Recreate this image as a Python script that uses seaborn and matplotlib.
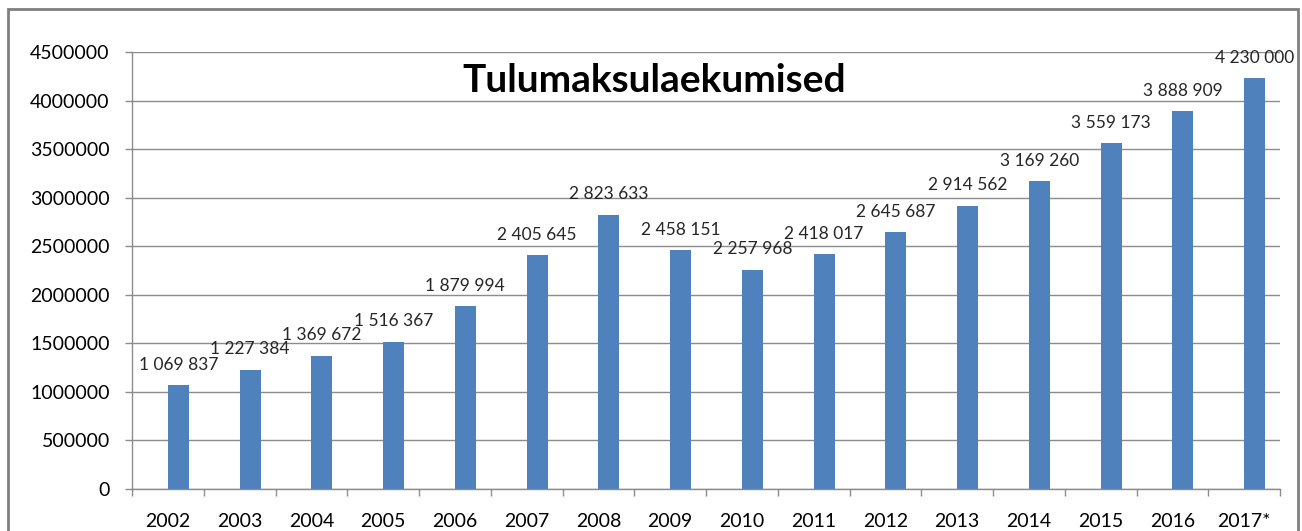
import matplotlib
matplotlib.use('Agg')
import matplotlib.pyplot as plt
import matplotlib.patches as patches
from matplotlib.ticker import FixedLocator, FuncFormatter, MultipleLocator
import seaborn as sns
import numpy as np
import pandas as pd

years = ['2002', '2003', '2004', '2005', '2006', '2007', '2008', '2009',
         '2010', '2011', '2012', '2013', '2014', '2015', '2016', '2017*']
income = [1069837, 1227384, 1369672, 1516367, 1879994, 2405645, 2823633, 2458151,
          2257968, 2418017, 2645687, 2914562, 3169260, 3559173, 3888909, 4230000]
# the source chart has an empty first series, which pushes the bars right
empty = [np.nan] * len(years)
title = 'Tulumaksulaekumised'

df = pd.DataFrame({
    'year': years * 2,
    'value': empty + income,
    'series': ['empty'] * len(years) + ['income'] * len(years),
})

sns.set_style('white')
plt.rcParams['font.family'] = ['Lato', 'DejaVu Sans']

grey = '#8c8c8c'
bar_color = '#4f81bd'

fig = plt.figure(figsize=(13.02, 5.31), dpi=100)
ax = fig.add_axes([132 / 1302, 1 - 489 / 531, (1280 - 132) / 1302, (489 - 52) / 531])

sns.barplot(data=df, x='year', y='value', hue='series', hue_order=['empty', 'income'],
            palette={'empty': bar_color, 'income': bar_color}, saturation=1,
            width=0.585, ax=ax, linewidth=0, legend=False)

ax.set_ylim(0, 4500000)
ax.set_xlim(-0.5, len(years) - 0.5)
ax.set_xlabel('')
ax.set_ylabel('')
ax.yaxis.set_major_locator(MultipleLocator(500000))
ax.yaxis.set_major_formatter(FuncFormatter(lambda v, p: '{:d}'.format(int(v))))
ax.grid(axis='y', color=grey, linewidth=1)
ax.set_axisbelow(True)

for s in ['top', 'right']:
    ax.spines[s].set_visible(False)
for s in ['left', 'bottom']:
    ax.spines[s].set_color(grey)
    ax.spines[s].set_linewidth(1)

# ticks between categories like excel
ax.xaxis.set_minor_locator(FixedLocator(np.arange(-0.5, len(years), 1)))
ax.tick_params(axis='x', which='major', length=0, pad=17, labelsize=14, colors='black')
ax.tick_params(axis='x', which='minor', length=5, width=1, color=grey, direction='out', bottom=True)
ax.tick_params(axis='y', length=5, width=1, color=grey, direction='out', left=True,
               pad=11, labelsize=14, labelcolor='black')

bars = ax.containers[-1]
labels = ['{:,}'.format(v).replace(',', ' ') for v in income]
ax.bar_label(bars, labels=labels, padding=9, fontsize=12.5)

ax.text(0.455, 0.935, title, transform=ax.transAxes, ha='center', va='center',
        fontsize=28, fontweight='bold', color='black')

# outer chart border (bottom edge cut off)
border = patches.Rectangle((8 / 1302, -0.1), (1298 - 8) / 1302, 1.1 - 9 / 531,
                           transform=fig.transFigure, fill=False, edgecolor='#7f7f7f',
                           linewidth=2, clip_on=False)
fig.patches.append(border)

plt.savefig('out.png', dpi=100)
